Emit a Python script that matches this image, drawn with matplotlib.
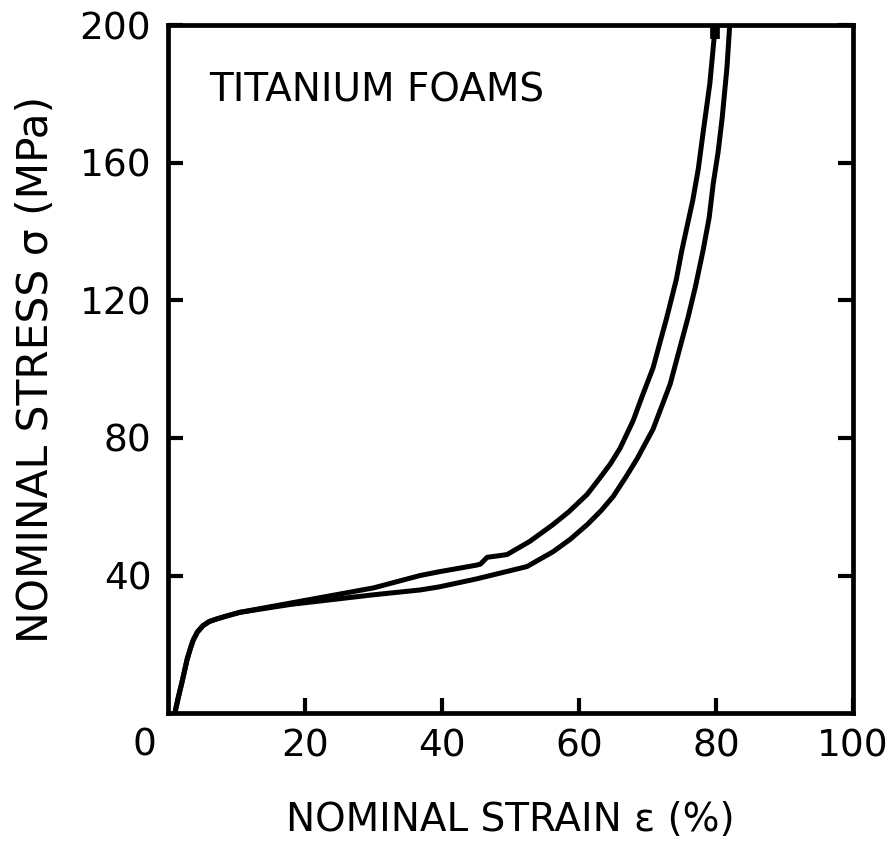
import matplotlib
matplotlib.use("Agg")
import matplotlib.pyplot as plt
from matplotlib import font_manager

# curve data (strain %, stress MPa)
upper_strain = [1.0, 1.5, 2.1, 2.8, 3.3, 3.7, 4.3, 5.1, 6.0, 7.0, 8.5, 10.5, 17.9,
                30.0, 36.8, 39.6, 45.0, 45.6, 46.6, 48.5, 49.5, 52.8, 56.2, 58.5,
                61.2, 63.1, 64.6, 66.0, 67.9, 69.2, 70.8, 72.8, 74.2, 75.0, 76.6,
                77.4, 78.1, 79.1, 79.9]
upper_stress = [0, 4.5, 9.5, 15.7, 19.0, 21.3, 23.6, 25.4, 26.6, 27.3, 28.2, 29.3, 32.0,
                36.4, 40.0, 41.1, 43.0, 43.3, 45.3, 45.8, 46.1, 49.9, 54.8, 58.5,
                63.6, 68.5, 72.5, 77.0, 85.0, 92.0, 100.3, 114.9, 126.0, 134.4, 149.0,
                158.0, 168.5, 183.0, 200.0]

lower_strain = [1.0, 1.5, 2.1, 2.8, 3.3, 3.7, 4.3, 5.1, 6.0, 7.0, 8.5, 10.5, 17.9,
                30.0, 36.8, 39.6, 45.0, 52.4, 56.2, 58.7, 61.2, 63.2, 65.0, 66.8,
                68.5, 70.8, 73.3, 75.9, 77.0, 78.1, 79.0, 79.6, 80.3, 80.9, 81.6, 82.0]
lower_stress = [0, 4.5, 9.5, 15.7, 19.0, 21.3, 23.6, 25.4, 26.6, 27.3, 28.2, 29.3, 31.6,
                34.4, 35.8, 36.7, 39.0, 42.6, 46.9, 50.5, 54.8, 58.8, 63.0, 68.5,
                74.0, 82.5, 95.6, 114.9, 124.0, 134.4, 144.0, 154.0, 163.0, 173.0,
                187.7, 200.0]

# little dark tab where the upper curve meets the top frame
tab_strain = [79.9, 79.9]
tab_stress = [196.0, 200.0]

x_ticks = [20, 40, 60, 80, 100]
y_ticks = [40, 80, 120, 160, 200]

available = {f.name for f in font_manager.fontManager.ttflist}
narrow = "DejaVu Sans"
for cand in ["DejaVu Sans Condensed", "Liberation Sans Narrow"]:
    if cand in available:
        narrow = cand
        break

plt.rcParams["font.family"] = ["DejaVu Sans"]

fig = plt.figure(figsize=(8.95, 8.51), dpi=100)
ax = fig.add_axes([0.1877, 0.162, 0.7654, 0.8086])

line_kw = dict(color="black", lw=3.6, solid_capstyle="butt", solid_joinstyle="round")
ax.plot(upper_strain, upper_stress, **line_kw)
ax.plot(lower_strain, lower_stress, **line_kw)
ax.plot(tab_strain, tab_stress, color="black", lw=7, solid_capstyle="butt")

ax.set_xlim(0, 100)
ax.set_ylim(0, 200)
ax.set_xticks(x_ticks)
ax.set_yticks(y_ticks)
ax.set_xticklabels([str(v) for v in x_ticks])
ax.set_yticklabels([str(v) for v in y_ticks])

for s in ax.spines.values():
    s.set_linewidth(3.4)

ax.tick_params(axis="both", direction="in", length=11, width=3, labelsize=27)
ax.tick_params(axis="y", right=True, pad=12)
ax.tick_params(axis="x", top=False, pad=11)

# shared zero label at the lower-left corner
ax.annotate("0", xy=(0, 0), xytext=(-17, -23), textcoords="offset points",
            ha="center", va="center", fontsize=27)

ax.text(0.06, 0.905, "TITANIUM FOAMS", transform=ax.transAxes, fontsize=28,
        ha="left", va="center", family=narrow)

ax.set_xlabel("NOMINAL STRAIN ε (%)", fontsize=28, family=narrow, labelpad=26)
ax.set_ylabel("NOMINAL STRESS σ (MPa)", fontsize=30.5, family=narrow, labelpad=16)

fig.savefig("out.png", dpi=100)
